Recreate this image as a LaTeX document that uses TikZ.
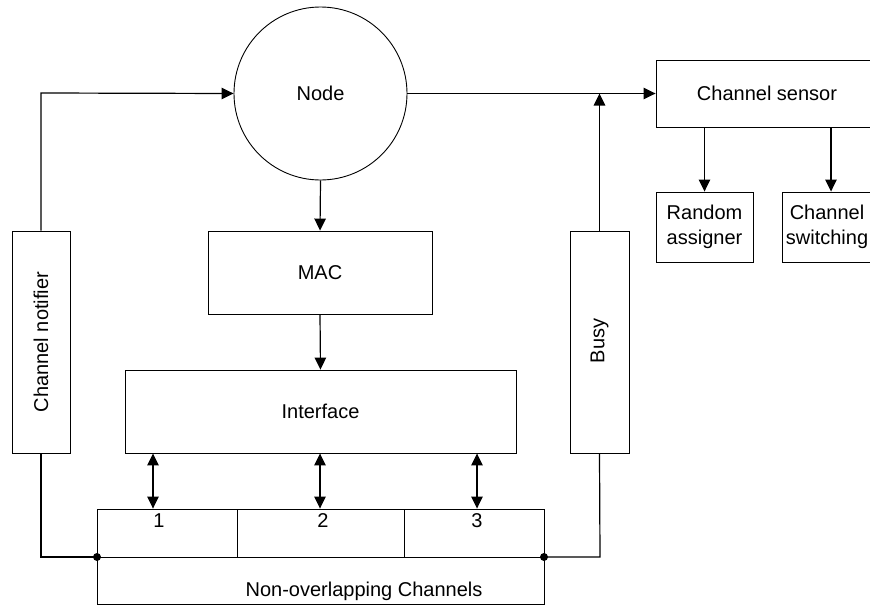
\documentclass[tikz,border=0pt]{standalone}
\usepackage{fontspec}
\setmainfont{Liberation Sans}
\usetikzlibrary{arrows.meta}
\begin{document}
\begin{tikzpicture}[x=1pt,y=-1pt,
  every node/.style={font=\fontsize{20}{23}\selectfont, inner sep=0pt},
  box/.style={draw, line width=0.9pt, anchor=center},
  conn/.style={line width=1.2pt},
  arr/.style={conn, -{Triangle[length=12pt,width=11.5pt]}},
  darr/.style={conn, {Triangle[length=12pt,width=11.5pt]}-{Triangle[length=12pt,width=11.5pt]}},
  dot/.style={circle, fill=black, minimum size=8pt}
]
\useasboundingbox (0,0) rectangle (870,605);
\clip (0,0) rectangle (870,605);

% main nodes
\node[box, circle, minimum size=173pt] (node) at (320.5,93.5) {Node};
\node[box, minimum width=224pt, minimum height=83pt] (mac) at (320,272.5) {MAC};
\node[box, minimum width=391pt, minimum height=83pt] (iface) at (320.5,411.5) {Interface};
\node[box, minimum width=58pt, minimum height=222pt] (notif) at (41,342) {};
\node[rotate=90] (notiftxt) at (41,342) {Channel notifier};
\node[box, minimum width=59pt, minimum height=222pt] (busy) at (599.5,342) {};
\node[rotate=90] (busytxt) at (599.5,341) {Busy};

% channels
\node[box, minimum width=140pt, minimum height=48pt] (ch1) at (167,533) {};
\node[box, minimum width=167pt, minimum height=48pt] (ch2) at (320.5,533) {};
\node[box, minimum width=140pt, minimum height=48pt] (ch3) at (474,533) {};
\node (l1) at (159,521) {1};
\node (l2) at (323,521) {2};
\node (l3) at (477,521) {3};
\node[box, minimum width=447pt, minimum height=47pt] (noc) at (320.5,580.5) {};
\node (noctxt) at (364,591) {Non-overlapping Channels};

% right side
\node[box, minimum width=222pt, minimum height=67pt] (sensor) at (767,93.5) {Channel sensor};
\node[box, minimum width=97pt, minimum height=70pt, align=center] (rand) at (704.5,227) {Random\\[2pt]assigner};
\node[box, minimum width=90pt, minimum height=70pt, align=center] (switch) at (827,227) {Channel\\[2pt]switching};

% helper coordinates
\coordinate (a1) at (153,480);
\coordinate (a2) at (320,480);
\coordinate (a3) at (477,480);
\coordinate (tl) at (41,93);
\coordinate (bl) at (41,557);
\coordinate (br) at (600,557);
\coordinate (s2) at (831,160);
\node[dot] (dl) at (97,557) {};
\node[dot] (dr) at (544,557) {};

% connectors
\draw[arr] (notif.north) -- (tl) -- (node.west);
\draw[arr] (node.south) -- (mac.north);
\draw[arr] (mac.south) -- (iface.north);
\draw[darr] (iface.south -| a1) -- (ch1.north -| a1);
\draw[darr] (iface.south -| a2) -- (ch2.north -| a2);
\draw[darr] (iface.south -| a3) -- (ch3.north -| a3);
\draw[conn] (notif.south) -- (bl) -- (dl.center);
\draw[conn] (dr.center) -- (br) -- (busy.south);
\draw[arr] (node.east) -- (sensor.west);
\draw[arr] (busy.north) -- (busy.north |- node.east);
\draw[arr] (sensor.south -| rand) -- (rand.north);
\draw[arr] (sensor.south -| s2) -- (switch.north -| s2);
\end{tikzpicture}
\end{document}
